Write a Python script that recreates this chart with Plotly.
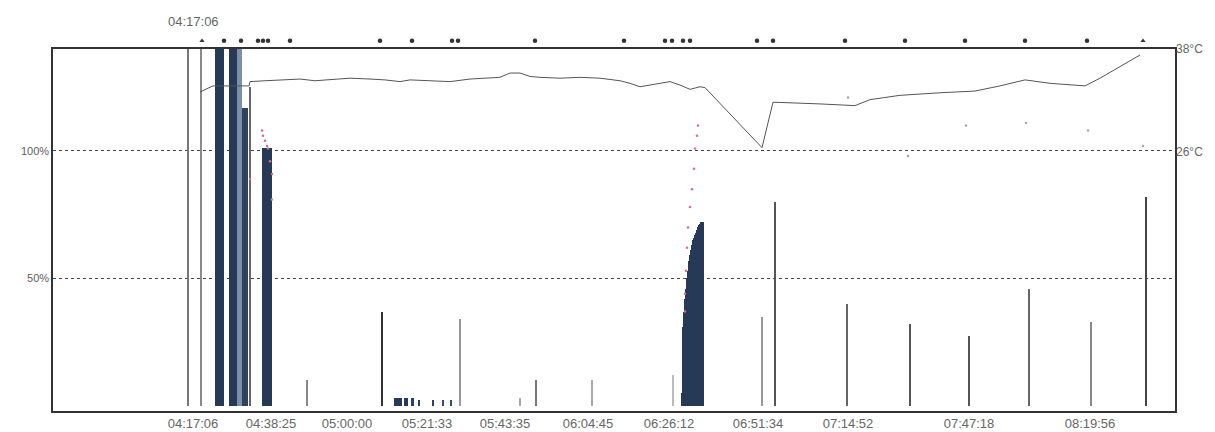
import plotly.graph_objects as go

# ---- data (x = sample index along the recording) ----
tick_pos = [140, 218, 294, 374, 452, 535, 616, 705, 795, 916, 1037]
tick_text = ["04:17:06", "04:38:25", "05:00:00", "05:21:33", "05:43:35", "06:04:45",
             "06:26:12", "06:51:34", "07:14:52", "07:47:18", "08:19:56"]

# event bars (percent)
bar_x = [135, 148, 166, 180, 186.5, 192, 197, 214, 254, 329, 345, 353, 359, 366, 380, 390, 398,
         407, 467, 483, 539, 620, 709, 722, 794, 857, 916, 976, 1038, 1093]
bar_y = [145, 145, 145, 145, 145, 117, 125, 101, 10, 37, 3, 3, 3, 2.5, 2.5, 2.5, 2.5,
         34, 3, 10, 10, 12, 35, 80, 40, 32, 27.5, 46, 33, 82]
bar_w = [1.5, 1.5, 9, 8, 5, 6, 1.5, 10, 1.2, 1.6, 8, 4, 3, 2, 2, 1.5, 2,
         1.6, 1, 1.2, 1, 1, 1.2, 1.5, 1.5, 1.5, 1.5, 1.5, 1.5, 1.8]
bar_c = ["#777777", "#8a8a8a", "#263a57", "#263a57", "#7d8fa8", "#2c4260", "#666666", "#263a57",
         "#888888", "#333333", "#263a57", "#263a57", "#2c4260", "#2c4260", "#2c4260", "#3a4d68", "#3a4d68",
         "#999999", "#aaaaaa", "#777777", "#aaaaaa", "#bbbbbb", "#999999", "#555555", "#666666",
         "#555555", "#555555", "#666666", "#888888", "#444444"]

# ramp of saturation bars near 06:26
ramp_x = [629, 630, 631, 632, 633, 634, 635, 636, 637, 638, 639, 640, 641, 642, 643, 644, 645, 646, 647, 648, 649, 650]
ramp_y = [5, 31, 37, 42, 46, 50, 53, 57, 59, 61, 63, 65, 66, 67, 68, 69, 70, 71, 71.5, 72, 72, 72]

# temperature (deg C)
temp_x = [147, 160, 196, 197, 212, 227, 247, 262, 277, 297, 317, 332, 347, 357, 377, 397, 417, 437,
          447, 457, 467, 477, 487, 507, 527, 547, 567, 577, 587, 597, 607, 617, 627, 637, 647, 652,
          709, 720, 767, 797, 802, 817, 847, 887, 922, 947, 972, 997, 1032, 1047, 1087]
temp_y = [33.0, 33.7, 33.7, 34.2, 34.3, 34.4, 34.5, 34.3, 34.4, 34.6, 34.5, 34.4, 34.2, 34.4, 34.3, 34.2,
          34.5, 34.6, 34.7, 35.2, 35.2, 34.8, 34.7, 34.6, 34.7, 34.6, 34.3, 34.0, 33.6, 33.8, 34.0, 34.2,
          33.8, 33.3, 33.6, 33.5, 26.5, 31.8, 31.6, 31.4, 31.4, 32.1, 32.6, 32.9, 33.1, 33.7, 34.4, 34.0,
          33.7, 34.6, 37.3]

# oxygen-saturation samples (percent)
spo2_red_x = [197, 209, 210, 212, 214, 215, 217, 219, 632, 632, 633, 634, 635, 637, 639, 641, 642, 644, 645]
spo2_red_y = [89, 108, 106, 104, 102, 101, 96, 91, 37, 44, 53, 62, 70, 78, 85, 93, 101, 106, 110]
spo2_gray_x = [219, 795, 855, 913, 973, 1035, 1090]
spo2_gray_y = [81, 121, 98, 110, 111, 108, 102]

# event markers above the chart
evt_x = [149, 171, 188, 205, 210, 215, 237, 327, 359, 399, 405, 482, 571, 612, 619, 630, 637, 704,
         720, 792, 852, 912, 972, 1034, 1090]
evt_sym = ["triangle-up"] + ["circle"] * 23 + ["triangle-up"]

fig = go.Figure()
fig.add_trace(go.Bar(x=bar_x, y=bar_y, width=bar_w, marker=dict(color=bar_c, line=dict(width=0)),
                     showlegend=False))
fig.add_trace(go.Bar(x=ramp_x, y=ramp_y, width=[1.1] * len(ramp_x),
                     marker=dict(color="#263a57", line=dict(width=0)), showlegend=False))
fig.add_trace(go.Scatter(x=spo2_red_x, y=spo2_red_y, mode="markers",
                         marker=dict(size=2.5, color="#e06a82"), showlegend=False))
fig.add_trace(go.Scatter(x=spo2_gray_x, y=spo2_gray_y, mode="markers",
                         marker=dict(size=2.5, color="#b0a0a8"), showlegend=False))
fig.add_trace(go.Scatter(x=temp_x, y=temp_y, mode="lines", yaxis="y2",
                         line=dict(color="#555555", width=1), showlegend=False))
fig.add_trace(go.Scatter(x=evt_x, y=[0.19] * len(evt_x), mode="markers", yaxis="y3",
                         marker=dict(size=4.5, color="#333333", symbol=evt_sym), showlegend=False))

fam = "Liberation Sans, Arial, sans-serif"
font_x = dict(family=fam, size=13, color="#666666")
font_y = dict(family=fam, size=11, color="#606060")
font_y2 = dict(family=fam, size=12, color="#666666")
MAIN_TOP = 0.9027
# the page adds an 8px body margin, so the figure is 8px smaller in each direction
fig.update_layout(
    width=1207, height=424,
    margin=dict(l=45, r=40, t=2, b=21, autoexpand=False),
    paper_bgcolor="white", plot_bgcolor="white",
    barmode="overlay", bargap=0,
    font=dict(family=fam, size=11, color="#606060"),
    xaxis=dict(range=[0, 1122], tickmode="array", tickvals=tick_pos, ticktext=tick_text,
               showgrid=False, zeroline=False, showline=True, mirror=True, anchor="y",
               linecolor="#333333", linewidth=1.5, ticks="", tickfont=font_x, automargin=False),
    yaxis=dict(domain=[0, MAIN_TOP], range=[-2, 140], tickmode="array", tickvals=[50, 100],
               ticktext=["50%", "100%"], showgrid=True, gridcolor="#444444",
               griddash="dot", gridwidth=1, zeroline=False, showline=True, mirror=True,
               linecolor="#333333", linewidth=1.5, ticks="", tickfont=font_y, automargin=False),
    yaxis2=dict(domain=[0, MAIN_TOP], range=[-4.2, 38], overlaying="y", side="right",
                tickmode="array", tickvals=[26, 38], ticktext=["26°C", "38°C"], showgrid=False,
                zeroline=False, showline=False, ticks="", tickfont=font_y2, automargin=False),
    yaxis3=dict(domain=[0.905, 1], range=[0, 1], anchor="x", visible=False, automargin=False),
    annotations=[dict(x=tick_pos[0], y=0.70, xref="x", yref="y3", text=tick_text[0],
                      showarrow=False, font=font_x)],
)
fig.write_html("out.html")
